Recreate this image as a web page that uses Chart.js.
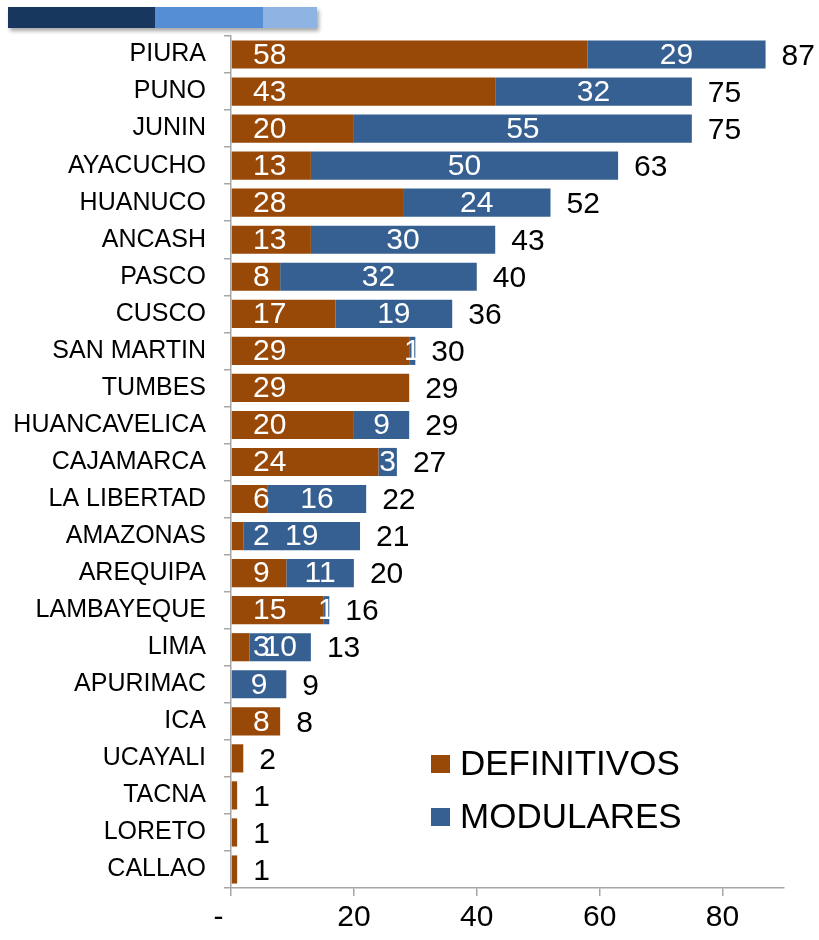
<!DOCTYPE html>
<html>
<head>
<meta charset="utf-8">
<script src="https://cdn.jsdelivr.net/npm/chart.js@4"></script>
<style>
  body { margin: 0; background: #fff; }
  #wrap { position: relative; width: 819px; height: 940px; }
  #deco { position: absolute; left: 8px; top: 7px; height: 21px; width: 309px; display: flex;
          box-shadow: 2px 3px 4px rgba(0,0,0,0.35); z-index: 2; }
  #deco div { height: 100%; }
</style>
</head>
<body>
<div id="wrap">
  <div id="deco">
    <div style="width:147px;background:#17375e"></div>
    <div style="width:108px;background:#558ed5"></div>
    <div style="width:54px;background:#8eb4e3"></div>
  </div>
  <canvas id="myChart" width="819" height="940"></canvas>
</div>
<script>
var regions = ['PIURA', 'PUNO', 'JUNIN', 'AYACUCHO', 'HUANUCO', 'ANCASH', 'PASCO', 'CUSCO',
  'SAN MARTIN', 'TUMBES', 'HUANCAVELICA', 'CAJAMARCA', 'LA LIBERTAD', 'AMAZONAS', 'AREQUIPA',
  'LAMBAYEQUE', 'LIMA', 'APURIMAC', 'ICA', 'UCAYALI', 'TACNA', 'LORETO', 'CALLAO'];
var definitivos = [58, 43, 20, 13, 28, 13, 8, 17, 29, 29, 20, 24, 6, 2, 9, 15, 3, 0, 8, 2, 1, 1, 1];
var modulares = [29, 32, 55, 50, 24, 30, 32, 19, 1, 0, 9, 3, 16, 19, 11, 1, 10, 9, 0, 0, 0, 0, 0];
var xTicks = [0, 20, 40, 60, 80];

var FONT = '"Liberation Sans", Arial, sans-serif';

// labels inside bars, totals at bar end, legend in the lower right
var labelsPlugin = {
  id: 'labels',
  afterDatasetsDraw: function(chart) {
    var ctx = chart.ctx;
    var xs = chart.scales.x;
    var x0 = xs.getPixelForValue(0);
    var m0 = chart.getDatasetMeta(0), m1 = chart.getDatasetMeta(1);
    ctx.save();
    ctx.font = '30px ' + FONT;
    ctx.textBaseline = 'middle';
    for (var i = 0; i < regions.length; i++) {
      var b0 = m0.data[i], b1 = m1.data[i];
      if (definitivos[i] > 0) {
        ctx.fillStyle = '#fff';
        ctx.textAlign = 'left';
        ctx.fillText(definitivos[i], x0 + 22, b0.y + 1);
      }
      if (modulares[i] > 0) {
        ctx.fillStyle = '#fff';
        ctx.textAlign = 'center';
        ctx.fillText(modulares[i], (b1.base + b1.x) / 2, b1.y + 1);
      }
      var total = definitivos[i] + modulares[i];
      ctx.fillStyle = '#000';
      ctx.textAlign = 'left';
      ctx.fillText(total, xs.getPixelForValue(total) + 16, b0.y + 2);
    }
    // legend
    var a = chart.chartArea;
    ctx.font = '35px ' + FONT;
    chart.data.datasets.forEach(function(ds, k) {
      var y = a.bottom - 124 + k * 53;
      ctx.fillStyle = ds.backgroundColor;
      ctx.fillRect(a.left + 200, y - 9, 19, 18);
      ctx.fillStyle = '#000';
      ctx.textAlign = 'left';
      ctx.fillText(ds.label, a.left + 229, y + 1);
    });
    ctx.restore();
  }
};

var ctx = document.getElementById('myChart').getContext('2d');
var chart = new Chart(ctx, {
  type: 'bar',
  data: {
    labels: regions,
    datasets: [{
      label: 'DEFINITIVOS',
      backgroundColor: '#984807',
      data: definitivos
    }, {
      label: 'MODULARES',
      backgroundColor: '#376092',
      data: modulares
    }]
  },
  options: {
    indexAxis: 'y',
    responsive: false,
    devicePixelRatio: 1,
    animation: false,
    barPercentage: 0.76,
    categoryPercentage: 1,
    layout: { padding: { top: 36, right: 35, left: 0, bottom: 0 } },
    plugins: { legend: { display: false }, tooltip: { enabled: false } },
    scales: {
      x: {
        stacked: true,
        min: 0,
        max: 90,
        afterBuildTicks: function(axis) {
          axis.ticks = xTicks.map(function(v) { return { value: v }; });
        },
        afterFit: function(axis) { axis.height = 52; },
        border: { color: '#a6a6a6', width: 1.5 },
        grid: { drawOnChartArea: false, color: '#a6a6a6', lineWidth: 1.5, tickLength: 8 },
        ticks: {
          padding: 4,
          color: '#000',
          font: { family: FONT, size: 30 },
          callback: function(v) { return v === 0 ? '-   ' : v; }
        }
      },
      y: {
        stacked: true,
        afterFit: function(axis) { axis.width = 231; },
        border: { color: '#a6a6a6', width: 1.5 },
        grid: { drawOnChartArea: false, color: '#a6a6a6', lineWidth: 1.5, tickLength: 7, offset: true },
        ticks: {
          padding: 18,
          color: '#000',
          font: { family: FONT, size: 25 }
        }
      }
    }
  },
  plugins: [labelsPlugin]
});
</script>
</body>
</html>
